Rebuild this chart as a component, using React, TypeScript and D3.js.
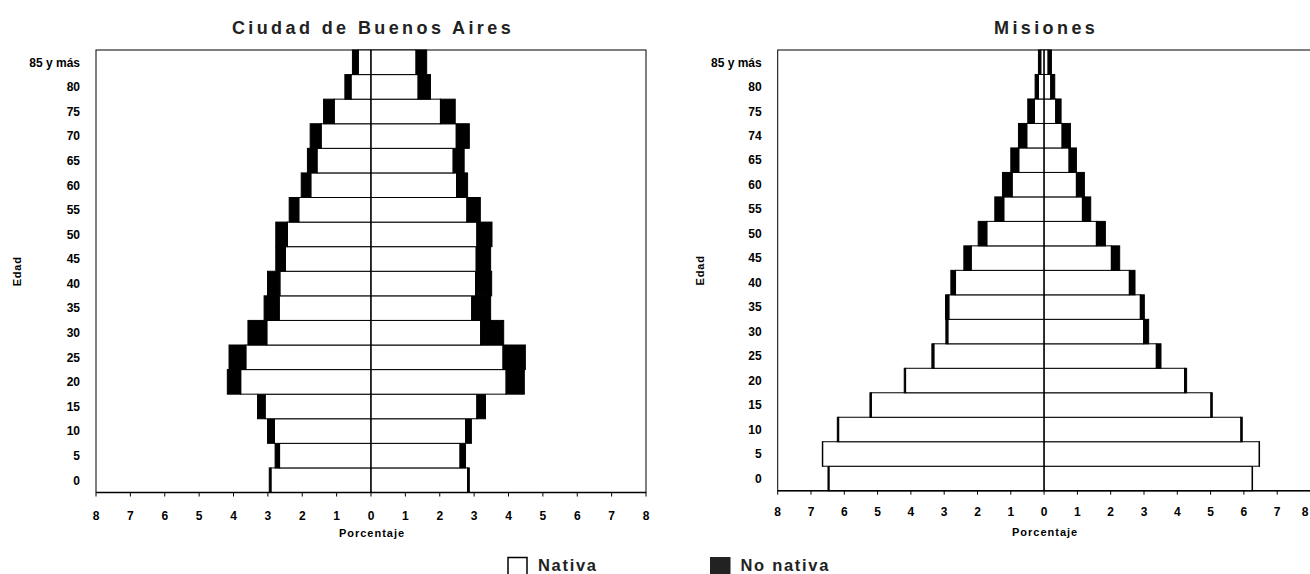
import React from "react";
import * as d3 from "d3";

// ---------- DATA ----------
const baAges = ["0", "5", "10", "15", "20", "25", "30", "35", "40", "45", "50", "55", "60", "65", "70", "75", "80", "85 y más"];
const misAges = ["0", "5", "10", "15", "20", "25", "30", "35", "40", "45", "50", "55", "60", "65", "74", "75", "80", "85 y más"];

const baLeftNativa = [2.91, 2.66, 2.81, 3.08, 3.79, 3.64, 3.03, 2.67, 2.65, 2.49, 2.43, 2.10, 1.75, 1.57, 1.45, 1.07, 0.58, 0.37];
const baLeftNoNativa = [0.05, 0.13, 0.20, 0.22, 0.39, 0.49, 0.55, 0.44, 0.36, 0.28, 0.34, 0.28, 0.28, 0.28, 0.32, 0.31, 0.18, 0.17];
const baRightNativa = [2.81, 2.59, 2.75, 3.08, 3.93, 3.84, 3.19, 2.93, 3.04, 3.06, 3.08, 2.79, 2.49, 2.39, 2.48, 2.02, 1.37, 1.31];
const baRightNoNativa = [0.05, 0.16, 0.17, 0.25, 0.53, 0.65, 0.67, 0.55, 0.47, 0.42, 0.44, 0.39, 0.32, 0.32, 0.38, 0.43, 0.36, 0.31];

const misLeftNativa = [6.46, 6.65, 6.17, 5.19, 4.16, 3.31, 2.89, 2.86, 2.66, 2.19, 1.72, 1.21, 0.96, 0.76, 0.52, 0.29, 0.17, 0.10];
const misLeftNoNativa = [0.03, 0.01, 0.04, 0.04, 0.04, 0.06, 0.06, 0.10, 0.14, 0.22, 0.26, 0.27, 0.29, 0.24, 0.25, 0.20, 0.10, 0.07];
const misRightNativa = [6.25, 6.46, 5.91, 5.01, 4.22, 3.37, 2.99, 2.89, 2.56, 2.02, 1.57, 1.15, 0.97, 0.75, 0.54, 0.35, 0.20, 0.12];
const misRightNoNativa = [0.01, 0.01, 0.04, 0.04, 0.06, 0.14, 0.15, 0.12, 0.17, 0.25, 0.27, 0.25, 0.24, 0.22, 0.25, 0.16, 0.12, 0.10];

const xTicks = [-8, -7, -6, -5, -4, -3, -2, -1, 0, 1, 2, 3, 4, 5, 6, 7, 8];
const titles = ["Ciudad de Buenos Aires", "Misiones"];
const legendLabels = ["Nativa", "No nativa"];

const FONT = "'Liberation Sans', Arial, Helvetica, sans-serif";

type PyramidProps = {
  title: string;
  ages: string[];
  leftN: number[];
  leftNN: number[];
  rightN: number[];
  rightNN: number[];
  x0: number;
  x1: number;
  y0: number;
  y1: number;
  edadX: number;
  tickY: number;
  porcY: number;
};

function Pyramid(p: PyramidProps) {
  const x = d3.scaleLinear().domain([-8, 8]).range([p.x0, p.x1]);
  const y = d3.scaleBand<string>().domain([...p.ages].reverse()).range([p.y0, p.y1]).padding(0);
  const bw = y.bandwidth();
  const cx = x(0);
  const labelX = p.x0 - 16;
  return (
    <g>
      <text x={cx + 2} y={33.5} textAnchor="middle" fontFamily={FONT} fontWeight="bold" fontSize={18} letterSpacing={3.4} fill="#222">
        {p.title}
      </text>
      {/* frame */}
      <rect x={p.x0} y={p.y0} width={p.x1 - p.x0} height={p.y1 - p.y0} fill="white" stroke="#000" strokeWidth={1} />
      {p.ages.map((a, i) => {
        const yy = y(a) as number;
        const ln = p.leftN[i], lnn = p.leftNN[i], rn = p.rightN[i], rnn = p.rightNN[i];
        return (
          <g key={a}>
            <rect x={x(-ln)} y={yy} width={cx - x(-ln)} height={bw} fill="white" stroke="#000" strokeWidth={1} />
            <rect x={x(-ln - lnn)} y={yy} width={x(-ln) - x(-ln - lnn)} height={bw} fill="#000" stroke="#000" strokeWidth={1} />
            <rect x={cx} y={yy} width={x(rn) - cx} height={bw} fill="white" stroke="#000" strokeWidth={1} />
            <rect x={x(rn)} y={yy} width={x(rn + rnn) - x(rn)} height={bw} fill="#000" stroke="#000" strokeWidth={1} />
            <text x={labelX} y={yy + bw / 2 + 4.3} textAnchor="end" fontFamily={FONT} fontWeight="bold" fontSize={12} fill="#000">
              {a}
            </text>
          </g>
        );
      })}
      <line x1={cx} x2={cx} y1={p.y0} y2={p.y1} stroke="#000" strokeWidth={1} />
      <line x1={p.x0} x2={p.x1} y1={p.y1} y2={p.y1} stroke="#000" strokeWidth={1.5} />
      {xTicks.map((t) => (
        <g key={t}>
          <line x1={x(t)} x2={x(t)} y1={p.y1} y2={p.y1 + 4} stroke="#000" strokeWidth={1} />
          <text x={Math.min(x(t), 1305)} y={p.tickY} textAnchor="middle" fontFamily={FONT} fontWeight="bold" fontSize={12} fill="#000">
            {Math.abs(t)}
          </text>
        </g>
      ))}
      <text x={cx + 1} y={p.porcY} textAnchor="middle" fontFamily={FONT} fontWeight="bold" fontSize={11} letterSpacing={1} fill="#000">
        Porcentaje
      </text>
      <text
        transform={`translate(${p.edadX},${(p.y0 + p.y1) / 2}) rotate(-90)`}
        textAnchor="middle"
        fontFamily={FONT}
        fontWeight="bold"
        fontSize={11}
        letterSpacing={0.8}
        fill="#000"
      >
        Edad
      </text>
    </g>
  );
}

export default function App() {
  return (
    <svg width={1310} height={574} style={{ position: "absolute", left: 0, top: 0, background: "white" }}>
      <rect x={0} y={0} width={1310} height={574} fill="white" />
      <Pyramid
        title={titles[0]}
        ages={baAges}
        leftN={baLeftNativa}
        leftNN={baLeftNoNativa}
        rightN={baRightNativa}
        rightNN={baRightNoNativa}
        x0={96}
        x1={646}
        y0={50}
        y1={492.5}
        edadX={20.5}
        tickY={519.5}
        porcY={537}
      />
      <Pyramid
        title={titles[1]}
        ages={misAges}
        leftN={misLeftNativa}
        leftNN={misLeftNoNativa}
        rightN={misRightNativa}
        rightNN={misRightNoNativa}
        x0={777.7}
        x1={1310.5}
        y0={50}
        y1={490.7}
        edadX={704}
        tickY={515.5}
        porcY={535.5}
      />
      {/* legend */}
      <rect x={508} y={557.5} width={19} height={19} fill="white" stroke="#000" strokeWidth={1.5} />
      <text x={538} y={570.5} fontFamily={FONT} fontWeight="bold" fontSize={16.5} letterSpacing={1.7} fill="#222">
        {legendLabels[0]}
      </text>
      <rect x={710} y={557} width={20.5} height={20} fill="#222" />
      <text x={740.5} y={570.5} fontFamily={FONT} fontWeight="bold" fontSize={16.5} letterSpacing={1.7} fill="#222">
        {legendLabels[1]}
      </text>
    </svg>
  );
}
